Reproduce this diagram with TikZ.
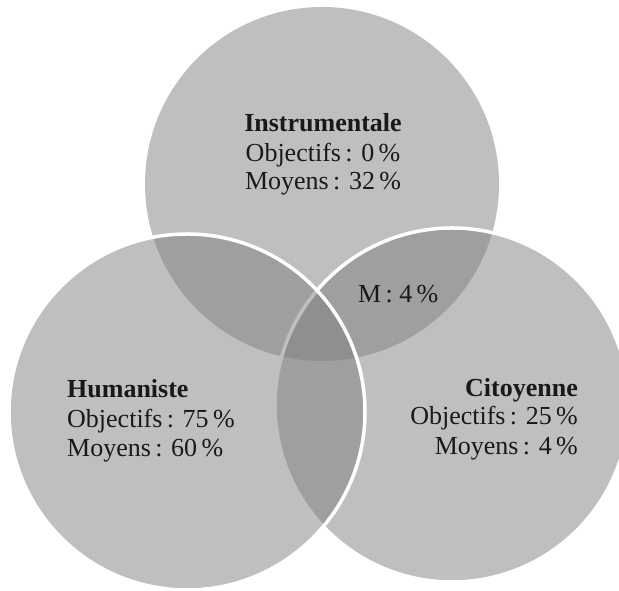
\documentclass[tikz,border=0pt]{standalone}
\usepackage{fontspec}
\setmainfont{Liberation Serif}
\begin{document}
\begin{tikzpicture}[x=1pt,y=1pt,
  venn/.style={fill=black!50,fill opacity=0.5},
  vennline/.style={venn,draw=white,line width=3.5pt},
  lbl/.style={inner sep=0pt,font=\fontsize{26}{29}\selectfont,text=black!90},
  ttl/.style={lbl,font=\fontsize{26}{29}\selectfont\bfseries}]
\useasboundingbox (0,0) rectangle (619,591);
\clip (0,0) rectangle (619,591);
% circles
\fill[venn] (322,407) circle (177);
\filldraw[vennline] (452,186) circle (177);
\filldraw[vennline] (187,179) circle (178);
% Instrumentale
\node[ttl,anchor=base] (i1) at (323,459) {Instrumentale};
\node[lbl,anchor=base] (i2) at (323,429) {Objectifs\,: 0\,\%};
\node[lbl,anchor=base] (i3) at (323,401) {Moyens\,: 32\,\%};
% Humaniste
\node[ttl,anchor=base west] (h1) at (67,193) {Humaniste};
\node[lbl,anchor=base west] (h2) at (67,163) {Objectifs\,: 75\,\%};
\node[lbl,anchor=base west] (h3) at (67,134) {Moyens\,: 60\,\%};
% Citoyenne
\node[ttl,anchor=base east] (c1) at (578,194) {Citoyenne};
\node[lbl,anchor=base east] (c2) at (578,166) {Objectifs\,: 25\,\%};
\node[lbl,anchor=base east] (c3) at (578,136) {Moyens\,: 4\,\%};
% intersection
\node[lbl,anchor=base west] (m) at (358,288) {M\,: 4\,\%};
\end{tikzpicture}
\end{document}
